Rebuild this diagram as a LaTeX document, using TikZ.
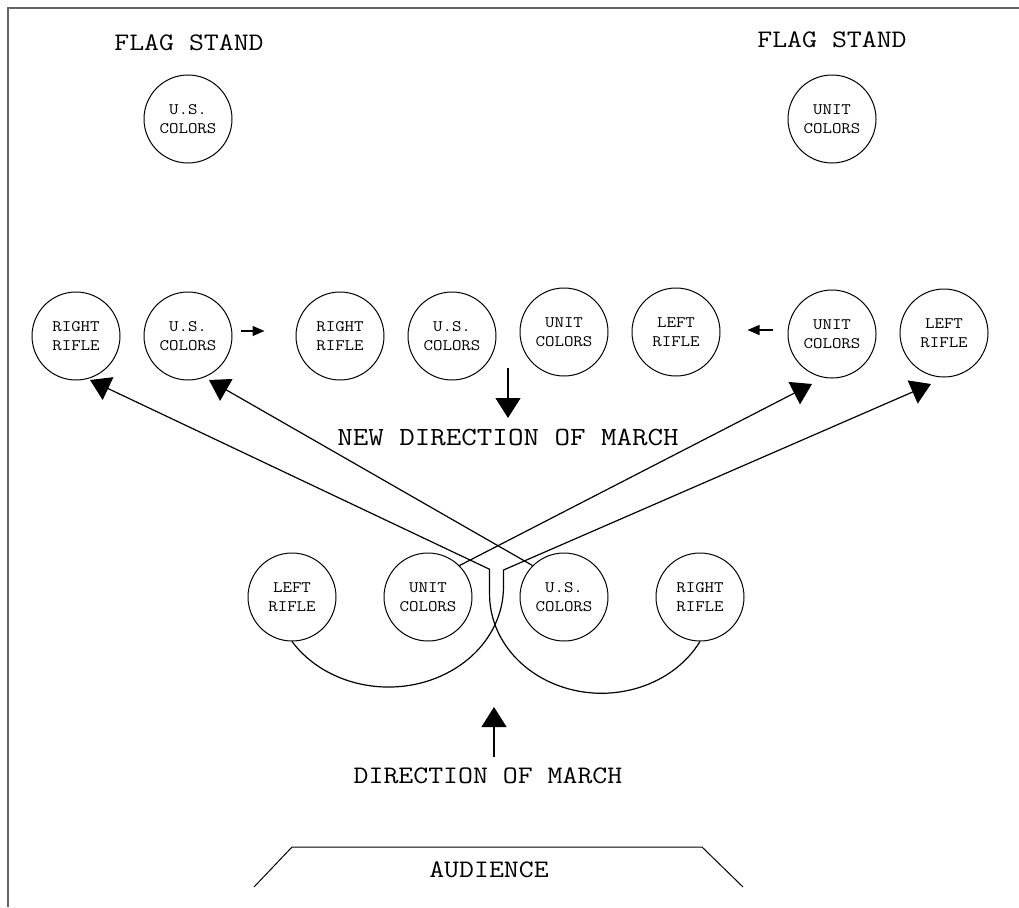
\documentclass[tikz,border=0pt]{standalone}
\usepackage{fontspec}
\newfontfamily\courfont[FakeStretch=1.15]{Latin Modern Mono}
\usetikzlibrary{arrows.meta,calc}
\begin{document}
\begin{tikzpicture}[x=1pt,y=-1pt,
  spot/.style={circle,draw,line width=1pt,minimum size=88pt,inner sep=0pt,align=center,
    font=\courfont\fontsize{16}{19}\selectfont},
  lbl/.style={font=\courfont\fontsize{25.2}{28}\selectfont,inner sep=0pt},
  lblb/.style={font=\courfont\fontsize{26.2}{28}\selectfont,inner sep=0pt},
  mv/.style={line width=1.2pt,-{Triangle[length=20pt,width=25pt]}},
  sm/.style={line width=1.2pt,-{Triangle[length=12pt,width=10pt]}},
  frm/.style={draw=black!60,line width=1.5pt}]
\useasboundingbox (0,0) rectangle (1019,907);
\draw[frm] (8,907) -- (8,8) -- (1019,8);

% flag stands
\node[lbl] (fsL) at (189,43) {FLAG STAND};
\node[lbl] (fsR) at (832,40) {FLAG STAND};
\node[spot] (usF) at (188,119) {U.S.\\COLORS};
\node[spot] (unF) at (832,119) {UNIT\\COLORS};

% middle row
\node[spot] (rr1) at (76,336) {RIGHT\\RIFLE};
\node[spot] (us1) at (188,336) {U.S.\\COLORS};
\node[spot] (rr2) at (340,336) {RIGHT\\RIFLE};
\node[spot] (us2) at (452,336) {U.S.\\COLORS};
\node[spot] (un2) at (564,332) {UNIT\\COLORS};
\node[spot] (lr2) at (676,332) {LEFT\\RIFLE};
\node[spot] (un1) at (832,334) {UNIT\\COLORS};
\node[spot] (lr1) at (944,333) {LEFT\\RIFLE};

% bottom row
\node[spot] (lrB) at (292,597) {LEFT\\RIFLE};
\node[spot] (unB) at (428,597) {UNIT\\COLORS};
\node[spot] (usB) at (564,597) {U.S.\\COLORS};
\node[spot] (rrB) at (700,597) {RIGHT\\RIFLE};

% small arrows
\draw[sm] ($(us1.east)+(8,-5)$) -- ($(rr2.west)+(-31,-5)$);
\draw[sm] ($(un1.west)+(-15,-4)$) -- ($(lr2.east)+(27,-2)$);

% new direction of march
\node[lblb] (ndm) at (508,437) {NEW DIRECTION OF MARCH};
\coordinate (ndmS) at (508,368);
\coordinate (ndmE) at (508,418);
\draw[mv] (ndmS) -- (ndmE);

% movement paths
\draw[mv] (rrB.south) arc[start angle=331.5,end angle=180,x radius=112pt,y radius=99pt]
  -- ++(0,-25) -- ($(rr1)+(14,44)$);
\draw[mv] (lrB.south) arc[start angle=213,end angle=360,x radius=115pt,y radius=100pt]
  -- ++(0,-17) -- ($(lr1)+(-13,51)$);
\draw[mv] (unB.north east) -- ($(un1)+(-20,50)$);
\draw[mv] (usB.north west) -- ($(us1)+(21,44)$);

% direction of march
\node[lbl] (dom) at (488,776) {DIRECTION OF MARCH};
\coordinate (domS) at (494,757);
\coordinate (domE) at (494,707);
\draw[mv] (domS) -- (domE);

% audience
\draw[line width=1pt] (254,887) -- (292,847) -- (702,847) -- (743,887);
\node[lbl] (aud) at (489,870) {AUDIENCE};
\end{tikzpicture}
\end{document}
